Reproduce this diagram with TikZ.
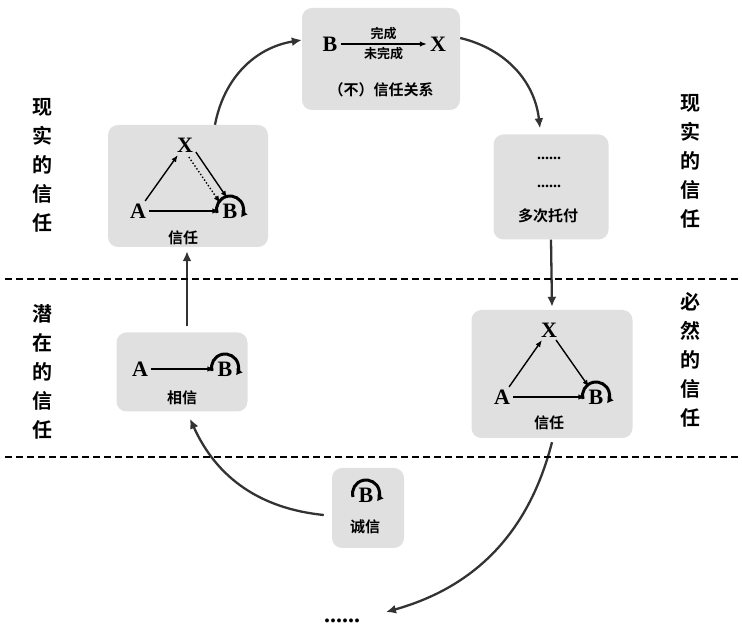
\documentclass[tikz,border=0pt]{standalone}
\usepackage{fontspec}
\setmainfont{Liberation Serif}
\newfontfamily\cjk{Noto Sans CJK SC}[BoldFont={Noto Sans CJK SC Bold}]
\usetikzlibrary{arrows.meta}

\newcommand\turnB[1]{\draw[turn] (#1.center) ++(-13,-2) arc[start angle=195,end angle=-35,radius=13.5];}

\begin{document}
\begin{tikzpicture}[x=1pt,y=1pt,
  box/.style={fill=black!12,rounded corners=10pt,inner sep=0pt},
  letter/.style={font=\fontsize{22}{22}\bfseries\selectfont,inner sep=1pt},
  cn/.style={font=\cjk\bfseries\fontsize{15}{15}\selectfont,inner sep=1pt},
  side/.style={font=\cjk\bfseries\fontsize{20}{29}\selectfont,align=center},
  flow/.style={-{Latex[length=10pt,width=9pt]},line width=2.3pt,draw=black!80},
  inarr/.style={-{Latex[length=7pt,width=5.5pt]},line width=1.4pt,shorten >=2pt,shorten <=2pt},
  turn/.style={-{Latex[length=6pt,width=8pt]},line width=3pt},
  divider/.style={dash pattern=on 7pt off 4pt,line width=2pt}]
\useasboundingbox (0,0) rectangle (742,631);
% boxes
\node[box,minimum width=158,minimum height=102] (top) at (381,572) {};
\node[box,minimum width=160,minimum height=122] (trust) at (188,445) {};
\node[box,minimum width=115,minimum height=105] (multi) at (551,444) {};
\node[box,minimum width=131,minimum height=79] (belief) at (182,259) {};
\node[box,minimum width=161,minimum height=128] (necessity) at (552,257) {};
\node[box,minimum width=72,minimum height=80] (honesty) at (368,123) {};
% (un)trust relation
\node[letter] (b0) at (330,587) {B};
\node[letter] (x0) at (438,587) {X};
\draw[inarr] (b0) -- (x0) node[cn,midway,above=2pt,font=\cjk\bfseries\fontsize{13}{13}\selectfont] {完成}
  node[cn,midway,below=2pt,font=\cjk\bfseries\fontsize{13}{13}\selectfont] {未完成};
\node[cn,font=\cjk\bfseries\fontsize{15}{15}\selectfont] (rel) at (381,541) {（不）信任关系};
% trust, upper left
\node[letter] (x1) at (185,486) {X};
\node[letter] (a1) at (138,420) {A};
\node[letter] (b1) at (230,420) {B};
\node[cn] (t1) at (183,393) {信任};
\draw[inarr] (a1) -- (x1);
\draw[inarr] (a1) -- (b1);
\draw[inarr,transform canvas={xshift=4pt,yshift=3pt}] (x1) -- (b1);
\draw[inarr,dotted,transform canvas={xshift=-3pt,yshift=-2pt}] (x1) -- (b1);
\turnB{b1}
% many times
\node[font=\bfseries\fontsize{16}{16}\selectfont] (d1) at (549,473) {......};
\node[font=\bfseries\fontsize{16}{16}\selectfont] (d2) at (549,445) {......};
\node[cn,font=\cjk\bfseries\fontsize{15}{15}\selectfont] (m1) at (548,415) {多次托付};
% belief
\node[letter] (a2) at (140,262) {A};
\node[letter] (b2) at (225,262) {B};
\node[cn] (t2) at (182,233) {相信};
\draw[inarr] (a2) -- (b2);
\turnB{b2}
% trust, lower right
\node[letter] (x3) at (549,301) {X};
\node[letter] (a3) at (502,234) {A};
\node[letter] (b3) at (596,234) {B};
\node[cn] (t3) at (549,208) {信任};
\draw[inarr] (a3) -- (x3);
\draw[inarr] (a3) -- (b3);
\draw[inarr] (x3) -- (b3);
\turnB{b3}
% honesty
\node[letter] (b4) at (366,136) {B};
\node[cn] (t4) at (365,104) {诚信};
\turnB{b4}
% cycle
\node[font=\bfseries\fontsize{24}{24}\selectfont] (dots) at (342,10) {......};
\coordinate (tail) at (386,19);
\draw[flow] ([xshift=27]trust.north) to[bend left=35] ([yshift=19]top.west);
\draw[flow] ([yshift=21]top.east) to[bend left=35] ([xshift=-11,yshift=6]multi.north);
\draw[flow] (multi.south) -- ([yshift=3]necessity.north);
\draw[flow] ([yshift=-4]necessity.south) to[bend left=30] (tail);
\draw[flow] ([xshift=-8,yshift=-7]honesty.west) to[bend left=30] ([xshift=8,yshift=-7]belief.south);
\draw[flow] ([xshift=5,yshift=6]belief.north) -- ([xshift=-1,yshift=-4]trust.south);
% levels
\coordinate (l1) at (5,352);
\coordinate (r1) at (742,352);
\coordinate (l2) at (5,174);
\coordinate (r2) at (742,174);
\draw[divider] (l1) -- (r1);
\draw[divider] (l2) -- (r2);
\node[side] (s1) at (42,466) {现\\实\\的\\信\\任};
\node[side] (s2) at (42,259) {潜\\在\\的\\信\\任};
\node[side] (s3) at (690,470) {现\\实\\的\\信\\任};
\node[side] (s4) at (690,271) {必\\然\\的\\信\\任};
\end{tikzpicture}
\end{document}
